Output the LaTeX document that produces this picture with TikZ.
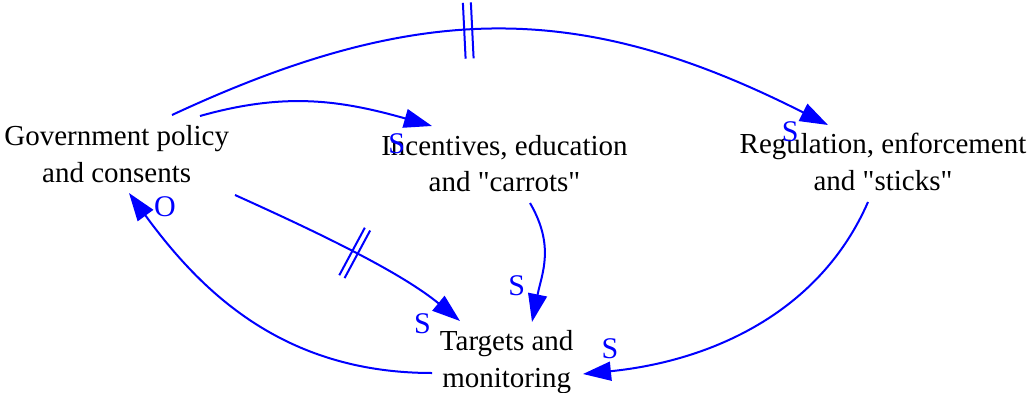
\documentclass[tikz,border=0pt]{standalone}
\usepackage{fontspec}
\setmainfont{Liberation Serif}
\usetikzlibrary{arrows.meta,decorations.markings}
\begin{document}
\begin{tikzpicture}[x=1pt,y=1pt,
  concept/.style={align=center,font=\fontsize{29}{36.5}\selectfont,inner sep=0pt},
  link/.style={draw=blue,line width=2pt,-{Triangle[length=28pt,width=19pt]}},
  polarity/.style={text=blue,font=\fontsize{30}{30}\selectfont,inner sep=0pt},
  delaywide/.style={postaction={decorate,decoration={markings,mark=at position #1 with {\draw[blue,line width=2pt,-] (-4pt,-28pt) -- (-4pt,28pt) (4pt,-28pt) -- (4pt,28pt);}}}},
  delaynarrow/.style={postaction={decorate,decoration={markings,mark=at position #1 with {\draw[blue,line width=2pt,-] (-3pt,-27pt) -- (-3pt,27pt) (3pt,-27pt) -- (3pt,27pt);}}}}
]
\fill[white,use as bounding box] (0,0) rectangle (1028,392);

\node[concept] (gov) at (116.7,238) {Government policy\\and consents};
\node[concept] (inc) at (504.5,228.6) {Incentives, education\\and \textquotedbl carrots\textquotedbl};
\node[concept] (reg) at (883,230.3) {Regulation, enforcement\\and \textquotedbl sticks\textquotedbl};
\node[concept] (tar) at (506.7,29.8) {Targets and\\monitoring};

% Government policy -> Regulation (delayed)
\draw[link,delaywide=310pt] ([shift={(55.3,39)}]gov.center) .. controls (421,393) and (583,391) .. ([shift={(-55,36.7)}]reg.center);
% Government policy -> Incentives
\draw[link] ([shift={(83.3,38)}]gov.center) .. controls (285,300) and (340,292) .. ([shift={(-72.5,37.4)}]inc.center);
% Government policy -> Targets (delayed)
\draw[link,delaynarrow=133pt] ([shift={(118.3,-41)}]gov.center) .. controls (308,164) and (398,122) .. ([shift={(-46.7,41.2)}]tar.center);
% Incentives -> Targets
\draw[link] ([shift={(25.5,-39.6)}]inc.center) .. controls (555,146) and (542,119) .. ([shift={(25.3,40.2)}]tar.center);
% Regulation -> Targets
\draw[link] ([shift={(-15,-40.3)}]reg.center) .. controls (820,80) and (712,31) .. ([shift={(76.3,-11.8)}]tar.center);
% Targets -> Government policy
\draw[link] ([shift={(-74.7,-10.8)}]tar.center) .. controls (282,19) and (200,102) .. ([shift={(12.3,-39)}]gov.center);

\node[polarity] (s1) at (396.7,248.7) {S};
\node[polarity] (s2) at (790.3,260.3) {S};
\node[polarity] (o1) at (165,185.3) {O};
\node[polarity] (s3) at (516.7,106.2) {S};
\node[polarity] (s4) at (422.5,68) {S};
\node[polarity] (s5) at (610,43.7) {S};
\end{tikzpicture}
\end{document}
